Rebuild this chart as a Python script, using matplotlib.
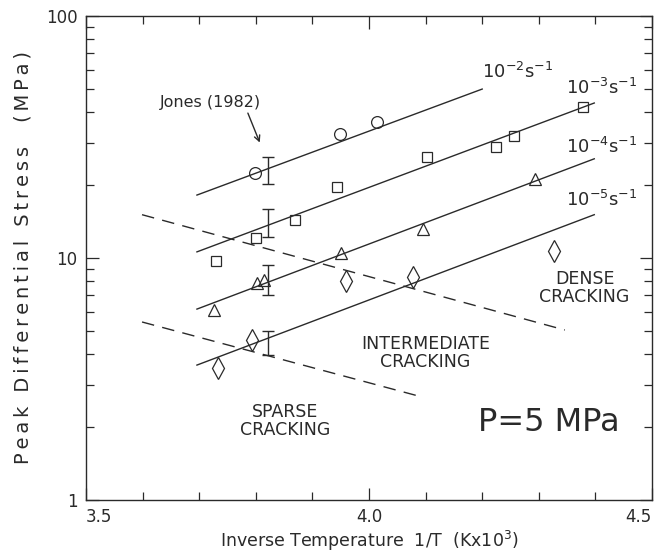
import matplotlib
matplotlib.use("Agg")
import matplotlib.pyplot as plt
import numpy as np
from matplotlib.ticker import FixedLocator, LogLocator, NullFormatter

# ---- data ----
circle_x = [3.799, 3.949, 4.014]
circle_y = [22.5, 32.5, 36.5]

square_x = [3.730, 3.800, 3.869, 3.943, 4.102, 4.224, 4.256, 4.378]
square_y = [9.7, 12.1, 14.4, 19.7, 26.2, 28.7, 31.9, 42.1]

triangle_x = [3.726, 3.802, 3.815, 3.951, 4.095, 4.293]
triangle_y = [6.1, 7.9, 8.1, 10.5, 13.2, 21.2]

diamond_x = [3.733, 3.793, 3.959, 4.078, 4.327]
diamond_y = [3.5, 4.6, 8.0, 8.35, 10.7]

# strain-rate fit lines (start/end)
rate_labels = [r"10$^{-2}$s$^{-1}$", r"10$^{-3}$s$^{-1}$", r"10$^{-4}$s$^{-1}$", r"10$^{-5}$s$^{-1}$"]
rate_x0 = [3.696, 3.696, 3.696, 3.696]
rate_x1 = [4.200, 4.398, 4.398, 4.398]
rate_y0 = [18.2, 10.6, 6.15, 3.61]
rate_y1 = [49.9, 43.7, 25.7, 15.1]

# cracking-regime boundaries (dashed)
bound_x0 = [3.599, 3.599]
bound_x1 = [4.346, 4.095]
bound_y0 = [15.1, 5.44]
bound_y1 = [5.04, 2.66]

# Jones (1982) error bars
err_x = [3.822, 3.822, 3.822, 3.822]
err_lo = [20.2, 12.2, 7.03, 3.97]
err_hi = [26.1, 15.9, 9.35, 4.99]

xticks = [3.5, 4.0, 4.5]
xticklabels = ["3.5", "4.0", "4.5"]
yticks = [1, 10, 100]
yticklabels = ["1", "10", "100"]

ink = "#2a2a2a"
plt.rcParams['font.family'] = ['DejaVu Sans']

fig = plt.figure(figsize=(6.61, 5.54), dpi=100)
ax = fig.add_axes([86/661, 1 - 500/554, (652-86)/661, (500-16)/554])
ax.set_yscale('log')
ax.set_xlim(3.5, 4.5)
ax.set_ylim(1, 100)

# fit lines
for x0, x1, y0, y1 in zip(rate_x0, rate_x1, rate_y0, rate_y1):
    ax.plot([x0, x1], [y0, y1], color=ink, lw=1.0)

# dashed boundaries
for x0, x1, y0, y1 in zip(bound_x0, bound_x1, bound_y0, bound_y1):
    ax.plot([x0, x1], [y0, y1], color=ink, lw=1.0, linestyle=(0, (9, 6)))

mk = dict(mfc='none', mec=ink, mew=0.9, linestyle='none')
ax.plot(circle_x, circle_y, marker='o', ms=8.5, **mk)
ax.plot(square_x, square_y, marker='s', ms=7.5, **mk)
ax.plot(triangle_x, triangle_y, marker='^', ms=8, **mk)
ax.plot(diamond_x, diamond_y, marker='d', ms=11, **mk)

# error bars
for x, lo, hi in zip(err_x, err_lo, err_hi):
    mid = np.sqrt(lo * hi)
    ax.errorbar([x], [mid], yerr=[[mid - lo], [hi - mid]], fmt='none',
                ecolor=ink, elinewidth=1.0, capsize=4.5, capthick=1.0)

# rate labels
label_pos = [(4.200, 58.7), (4.348, 50.4), (4.348, 28.7), (4.348, 17.4)]
for (lx, ly), t in zip(label_pos, rate_labels):
    ax.text(lx, ly, t, fontsize=13, color=ink, ha='left', va='center')

# annotations
ax.text(3.719, 44.0, "Jones (1982)", fontsize=11.5, color=ink,
        ha='center', va='center')
ax.annotate("", xy=(3.807, 30.0), xytext=(3.786, 39.7),
            arrowprops=dict(arrowstyle='->', color=ink, lw=1.0,
                            shrinkA=0, shrinkB=0))

ax.text(4.381, 7.52, "DENSE\nCRACKING", fontsize=12.5, color=ink,
        ha='center', va='center', linespacing=1.0)
ax.text(4.1, 4.05, "INTERMEDIATE\nCRACKING", fontsize=12.5, color=ink,
        ha='center', va='center', linespacing=1.0)
ax.text(3.852, 2.12, "SPARSE\nCRACKING", fontsize=12.5, color=ink,
        ha='center', va='center', linespacing=1.0)
ax.text(4.318, 2.10, "P=5 MPa", fontsize=23, color=ink,
        ha='center', va='center')

# ticks
ax.xaxis.set_major_locator(FixedLocator(xticks))
ax.set_xticklabels(xticklabels)
ax.xaxis.set_minor_locator(FixedLocator(np.arange(3.6, 4.5, 0.1)))
ax.yaxis.set_major_locator(FixedLocator(yticks))
ax.set_yticklabels(yticklabels)
ax.yaxis.set_minor_locator(LogLocator(base=10, subs=np.arange(2, 10)))
ax.yaxis.set_minor_formatter(NullFormatter())
ax.tick_params(which='both', direction='in', top=True, right=True,
               color=ink, width=0.9, labelsize=12, labelcolor=ink)
ax.tick_params(which='major', length=9, pad=6)
ax.tick_params(which='minor', length=6)
xl = ax.get_xticklabels()
xl[0].set_horizontalalignment('left')
xl[-1].set_horizontalalignment('right')
for s in ax.spines.values():
    s.set_color(ink)
    s.set_linewidth(1.0)

ax.set_xlabel(r"Inverse Temperature  1/T  (Kx10$^3$)", fontsize=12.5,
              color=ink, labelpad=2)
ylab = "Peak Differential Stress  (MPa)"
ylab_spaced = "\u2009".join(ylab)
ax.set_ylabel(ylab_spaced, fontsize=14, color=ink, labelpad=10)

fig.savefig("out.png", dpi=100, facecolor='white')
